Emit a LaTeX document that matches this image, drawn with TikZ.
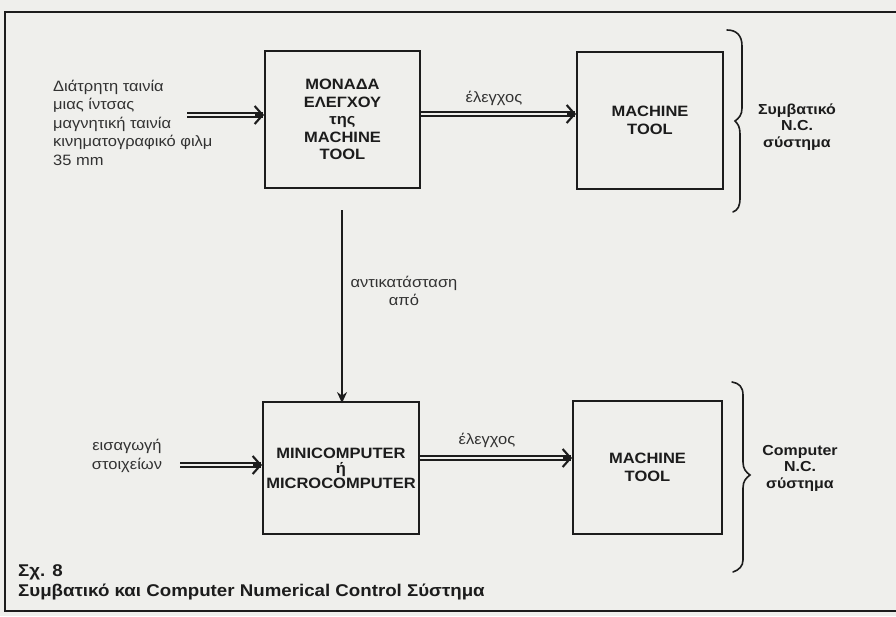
\documentclass[tikz,border=0pt]{standalone}
\usepackage{fontspec}
\setmainfont{Liberation Sans}[FakeStretch=1.1]
\usetikzlibrary{arrows.meta}
\definecolor{paper}{RGB}{239,239,236}
\definecolor{ink}{RGB}{28,28,28}
\definecolor{soft}{RGB}{50,50,50}
\begin{document}
\begin{tikzpicture}[x=1pt,y=-1pt,
  box/.style={draw=ink, line width=1.9pt, inner sep=0pt, align=center, text=ink,
    font=\bfseries\fontsize{15}{17.5}\selectfont},
  lbl/.style={font=\fontsize{15}{18.5}\selectfont, text=soft, inner sep=0pt},
  side/.style={font=\bfseries\fontsize{14.5}{16.5}\selectfont, align=center, text=ink, inner sep=0pt},
  captxt/.style={font=\bfseries\fontsize{17}{18}\selectfont, text=ink, inner sep=0pt},
  dbl/.style={draw=ink, double=paper, double distance=2.2pt, line width=2.3pt},
  chev/.style={draw=ink, line width=2.1pt, -{Straight Barb[length=8pt,width=18pt]}},
  arr/.style={draw=ink, line width=1.5pt, -{Stealth[length=11pt,width=10pt]}},
  brace/.style={draw=ink, line width=1.6pt, line cap=round},
]
\fill[paper] (0,0) rectangle (896,616);
\useasboundingbox (0,0) rectangle (896,616);
\draw[ink, line width=1.8pt] (896,12) -- (5,12) -- (5,611) -- (896,611);

% boxes
\node[box, minimum width=155pt, minimum height=137pt] (A) at (342.5,119.5)
  {ΜΟΝΑΔΑ\\ΕΛΕΓΧΟΥ\\της\\MACHINE\\TOOL};
\node[box, minimum width=146pt, minimum height=137pt] (B) at (650,120.5)
  {MACHINE\\TOOL};
\node[box, minimum width=156pt, minimum height=132pt, font=\bfseries\fontsize{15}{15}\selectfont] (C) at (341,468)
  {MINICOMPUTER\\ή\\MICROCOMPUTER};
\node[box, minimum width=149pt, minimum height=133pt] (D) at (647.5,467.5)
  {MACHINE\\TOOL};

% input texts
\node[lbl, align=left, anchor=west] (in1) at (53,122.5)
  {Διάτρητη ταινία\\μιας ίντσας\\μαγνητική ταινία\\κινηματογραφικό φιλμ\\35 mm};
\node[lbl, align=center] (in2) at (127,456)
  {εισαγωγή\\στοιχείων};

\coordinate (s1) at (187,115);
\coordinate (s2) at (180,465);

% double arrows
\draw[dbl] (s1) -- ([xshift=-1pt]s1 -| A.west);
\draw[chev] ([xshift=-9pt]s1 -| A.west) -- (s1 -| A.west);
\draw[dbl] (s2) -- ([xshift=-1pt]s2 -| C.west);
\draw[chev] ([xshift=-9pt]s2 -| C.west) -- (s2 -| C.west);

\coordinate (t1) at (420,114);
\coordinate (t2) at (418,458);
\draw[dbl] (t1 -| A.east) -- ([xshift=-1pt]t1 -| B.west);
\draw[chev] ([xshift=-9pt]t1 -| B.west) -- (t1 -| B.west);
\draw[dbl] (t2 -| C.east) -- ([xshift=-1pt]t2 -| D.west);
\draw[chev] ([xshift=-9pt]t2 -| D.west) -- (t2 -| D.west);

\node[lbl] (e1) at (494,98) {έλεγχος};
\node[lbl] (e2) at (487,440) {έλεγχος};

% vertical replacement arrow
\coordinate (v0) at (342,210);
\draw[arr] (v0) -- ([yshift=-2pt]v0 |- C.north);
\node[lbl, align=center] (rep) at (404,291) {αντικατάσταση\\από};

% braces
\draw[brace] (727,30) .. controls (736,30) and (742,35) .. (742,46)
  -- (742,108) .. controls (742,115) and (739,118) .. (735,121)
  .. controls (738,124) and (740,127) .. (740,134)
  -- (740,198) .. controls (740,206) and (738,210) .. (733,212);
\draw[brace] (732,382) .. controls (739,383) and (743,387) .. (743,395)
  -- (743,462) .. controls (743,469) and (746,472) .. (750,475)
  .. controls (746,478) and (743,481) .. (743,488)
  -- (743,560) .. controls (743,566) and (739,570) .. (733,572);

\node[side] (sys1) at (797,127) {Συμβατικό\\N.C.\\σύστημα};
\node[side] (sys2) at (800,468) {Computer\\N.C.\\σύστημα};

% caption
\node[captxt, anchor=base west] (fig) at (18,576) {Σχ. 8};
\node[captxt, anchor=base west] (title) at (18,596)
  {Συμβατικό και Computer Numerical Control Σύστημα};
\end{tikzpicture}
\end{document}
